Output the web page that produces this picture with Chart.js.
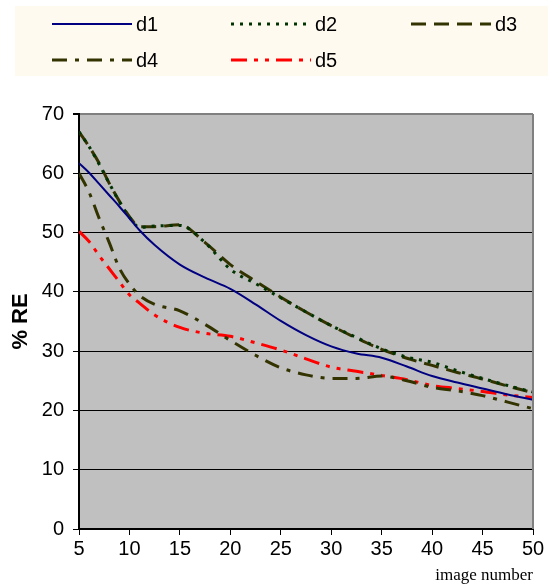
<!DOCTYPE html>
<html>
<head>
<meta charset="utf-8">
<script src="https://cdn.jsdelivr.net/npm/chart.js@4.4.0/dist/chart.umd.min.js"></script>
<style>
  body { margin: 0; background: #fff; }
  canvas { display: block; }
</style>
</head>
<body>
<canvas id="myChart" width="548" height="585"></canvas>
<script>
// values
const imageNumber = [5, 6, 7, 8, 9, 10, 11, 12.5, 15, 17.5, 20, 22.5, 25, 27.5, 30, 32.5, 35, 37.5, 40, 42.5, 45, 47.5, 50];
const d1 = [61.7, 60.1, 58.2, 56.3, 54.4, 52.4, 50.4, 47.9, 44.6, 42.4, 40.5, 37.9, 35.1, 32.7, 30.8, 29.6, 28.9, 27.4, 25.8, 24.7, 23.7, 22.7, 21.8];
const d2 = [67.0, 64.5, 61.5, 58.3, 55.2, 52.6, 50.9, 51.1, 51.2, 48.3, 43.8, 41.4, 39.0, 36.6, 34.3, 32.3, 30.4, 29.0, 28.1, 26.7, 25.4, 24.2, 23.1];
const d3 = [67.0, 64.5, 61.7, 58.3, 55.3, 52.7, 51.0, 51.0, 51.3, 48.3, 44.6, 41.8, 39.1, 36.6, 34.3, 32.2, 30.3, 28.8, 27.6, 26.4, 25.3, 24.1, 23.0];
const d4 = [60.0, 56.8, 52.4, 48.3, 44.0, 41.3, 39.4, 37.9, 36.8, 34.5, 31.8, 29.3, 27.2, 26.0, 25.4, 25.4, 25.8, 25.0, 23.9, 23.3, 22.5, 21.4, 20.3];
const d5 = [50.2, 48.5, 46.1, 43.9, 41.7, 39.5, 38.1, 36.1, 34.0, 33.0, 32.5, 31.4, 30.2, 28.7, 27.3, 26.6, 25.9, 25.2, 24.2, 23.7, 23.2, 22.6, 22.2];
const seriesNames = ["d1", "d2", "d3", "d4", "d5"];
const yTitle = "% RE";
const xTitle = "image number";

const series = [d1, d2, d3, d4, d5];
const colors = ["#000080", "#003300", "#333300", "#333300", "#ff0000"];
const dashes = [[], [3, 6], [15, 8], [15, 8, 4, 8], [16, 7, 4, 7, 4, 7]];
const widths = [2, 3, 3, 3, 3];

const datasets = series.map((vals, i) => ({
  label: seriesNames[i],
  data: vals.map((v, j) => ({ x: imageNumber[j], y: v })),
  borderColor: colors[i],
  borderDash: dashes[i],
  borderWidth: widths[i],
  pointRadius: 0,
  fill: false,
  cubicInterpolationMode: "monotone",
}));

// grey plot area + right frame
const plotBack = {
  id: "plotBack",
  beforeDraw(chart) {
    const { ctx, chartArea: a } = chart;
    ctx.save();
    ctx.fillStyle = "#c0c0c0";
    ctx.fillRect(a.left, a.top, a.right - a.left, a.bottom - a.top);
    ctx.restore();
  },
  afterDraw(chart) {
    const { ctx, chartArea: a } = chart;
    ctx.save();
    ctx.strokeStyle = "#808080";
    ctx.lineWidth = 2;
    ctx.beginPath();
    ctx.moveTo(a.right, a.top);
    ctx.lineTo(a.right, a.bottom);
    ctx.stroke();
    ctx.restore();
  },
};

// legend in three columns, plus axis titles
const boxLegend = {
  id: "boxLegend",
  afterDraw(chart) {
    const ctx = chart.ctx;
    ctx.save();
    ctx.fillStyle = "#fffaf0";
    ctx.fillRect(15, 6, 533, 70);
    const cols = [52, 231, 411];
    const rows = [24, 60];
    chart.data.datasets.forEach((ds, i) => {
      const x = cols[i % 3];
      const y = rows[Math.floor(i / 3)];
      ctx.strokeStyle = ds.borderColor;
      ctx.lineWidth = ds.borderWidth;
      ctx.setLineDash(ds.borderDash);
      ctx.beginPath();
      ctx.moveTo(x, y);
      ctx.lineTo(x + 80, y);
      ctx.stroke();
      ctx.setLineDash([]);
      ctx.fillStyle = "#000";
      ctx.font = "20px 'Liberation Sans', Arial, sans-serif";
      ctx.textBaseline = "middle";
      ctx.textAlign = "left";
      ctx.fillText(ds.label, x + 84, y + 1);
    });

    const a = chart.chartArea;
    ctx.fillStyle = "#000";
    ctx.font = "bold 22px 'Liberation Sans', Arial, sans-serif";
    ctx.translate(21, (a.top + a.bottom) / 2);
    ctx.rotate(-Math.PI / 2);
    ctx.textAlign = "center";
    ctx.textBaseline = "middle";
    ctx.fillText(yTitle, 0, 0);
    ctx.setTransform(1, 0, 0, 1, 0, 0);
    ctx.font = "17px 'Liberation Serif', 'Times New Roman', serif";
    ctx.textAlign = "right";
    ctx.textBaseline = "alphabetic";
    ctx.fillText(xTitle, a.right, 580);
    ctx.restore();
  },
};

const tickFont = { size: 20, family: "'Liberation Sans', Arial" };

const ctx = document.getElementById("myChart").getContext("2d");
new Chart(ctx, {
  type: "line",
  data: { datasets: datasets },
  options: {
    responsive: false,
    animation: false,
    layout: { padding: { top: 114, right: 15, left: 0, bottom: 0 } },
    plugins: { legend: { display: false }, tooltip: { enabled: false } },
    scales: {
      x: {
        type: "linear",
        min: 5,
        max: 50,
        ticks: { stepSize: 5, color: "#000", font: tickFont, padding: 2, maxRotation: 0 },
        grid: { drawOnChartArea: false, tickLength: 6, color: "#000" },
        border: { color: "#000", width: 2 },
        afterFit(scale) { scale.height = 56; },
      },
      y: {
        min: 0,
        max: 70,
        ticks: { stepSize: 10, color: "#000", font: tickFont, padding: 9 },
        grid: {
          color: (c) => (c.tick && c.tick.value === 70 ? "#808080" : "#000"),
          tickColor: "#000",
          tickLength: 6,
          lineWidth: (c) => (c.tick && c.tick.value === 70 ? 2 : 1),
        },
        border: { color: "#000", width: 2 },
        afterFit(scale) { scale.width = 79; },
      },
    },
  },
  plugins: [plotBack, boxLegend],
});
</script>
</body>
</html>
